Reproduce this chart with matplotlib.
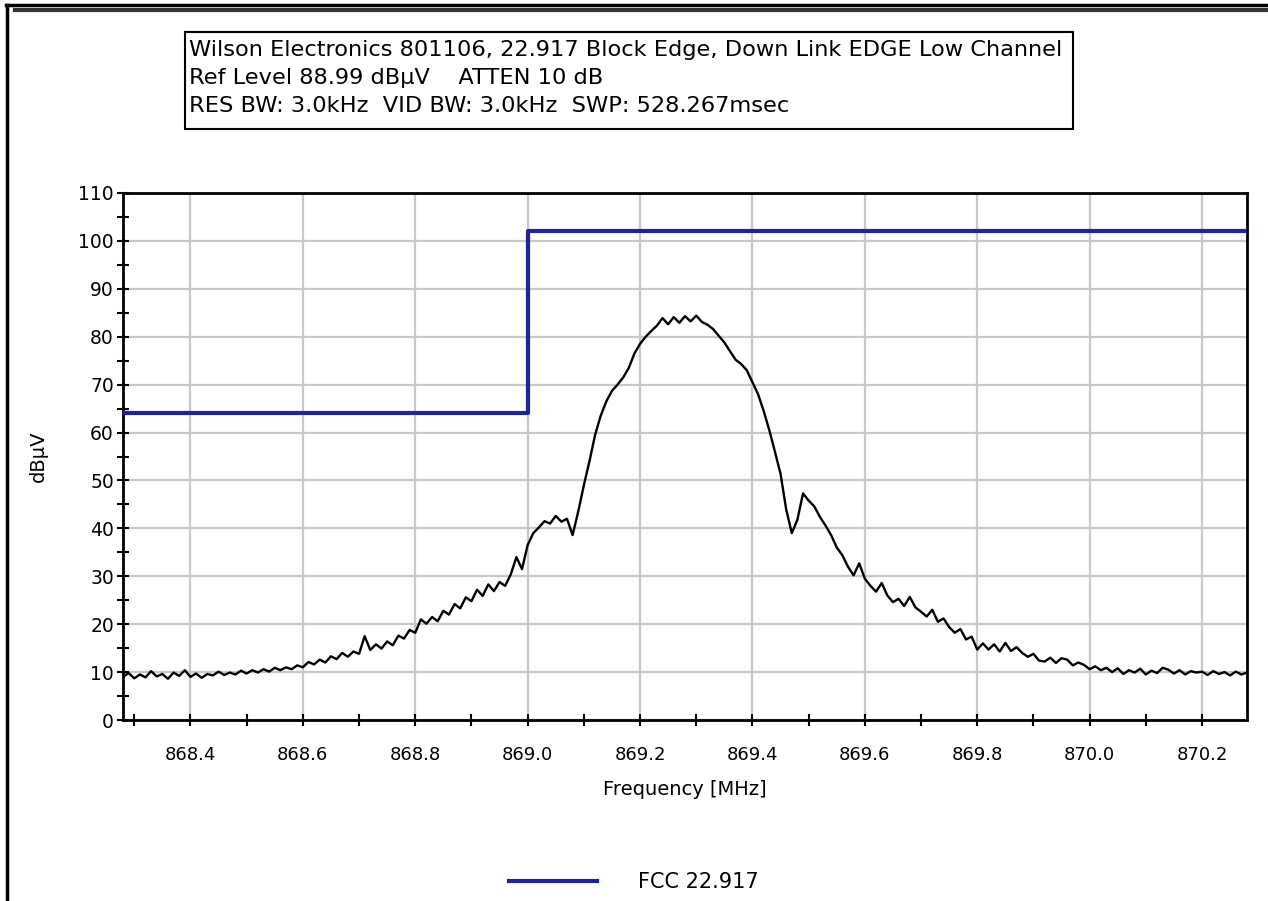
import numpy as np
import matplotlib
matplotlib.use("Agg")
import matplotlib.pyplot as plt
from matplotlib.lines import Line2D
from matplotlib.patches import Rectangle
from matplotlib.ticker import MultipleLocator, FormatStrFormatter

plt.rcParams["font.family"] = ["DejaVu Sans"]

# spectrum analyser sweep, 868.28 .. 870.28 MHz, one reading per 10 kHz (dBuV)
trace = [
    9.0, 9.8, 8.7, 9.5, 8.9, 10.2, 9.1, 9.6, 8.6, 9.9,
    9.2, 10.4, 9.0, 9.7, 8.8, 9.6, 9.3, 10.1, 9.4, 9.9,
    9.5, 10.3, 9.7, 10.4, 9.9, 10.6, 10.1, 10.9, 10.4, 11.0,
    10.6, 11.4, 11.0, 12.1, 11.6, 12.6, 12.0, 13.3, 12.7, 14.0,
    13.2, 14.3, 13.8, 17.5, 14.6, 15.8, 14.9, 16.4, 15.6, 17.6,
    17.0, 18.8, 18.2, 21.0, 20.1, 21.5, 20.6, 22.8, 22.0, 24.2,
    23.3, 25.6, 24.8, 27.2, 25.9, 28.3, 26.9, 28.8, 28.0, 30.4,
    34.0, 31.5, 36.5, 39.0, 40.2, 41.5, 41.0, 42.6, 41.4, 42.0,
    38.6, 43.5, 49.0, 54.0, 59.5, 63.5, 66.5, 68.7, 70.0, 71.5,
    73.5, 76.5, 78.5, 80.0, 81.2, 82.3, 83.9, 82.6, 84.1, 82.9,
    84.3, 83.2, 84.4, 83.1, 82.5, 81.6, 80.2, 78.8, 77.0, 75.2,
    74.3, 73.0, 70.5, 68.0, 64.5, 60.5, 56.0, 51.4, 44.0, 39.0,
    41.8, 47.3, 45.8, 44.6, 42.4, 40.6, 38.6, 36.0, 34.4, 32.0,
    30.2, 32.7, 29.5, 28.0, 26.8, 28.6, 26.0, 24.6, 25.3, 23.8,
    25.7, 23.5, 22.6, 21.6, 23.0, 20.5, 21.2, 19.4, 18.2, 19.0,
    16.8, 17.4, 14.7, 16.0, 14.7, 15.8, 14.3, 16.1, 14.4, 15.2,
    14.0, 13.2, 13.8, 12.4, 12.2, 13.0, 11.9, 12.9, 12.6, 11.4,
    12.0, 11.5, 10.6, 11.2, 10.4, 10.9, 10.0, 10.8, 9.6, 10.4,
    9.9, 10.7, 9.5, 10.3, 9.8, 10.9, 10.5, 9.7, 10.4, 9.5,
    10.2, 9.9, 10.1, 9.4, 10.2, 9.6, 10.0, 9.3, 10.1, 9.5,
    9.9,
]
f_start, f_stop = 868.28, 870.28
freq = np.linspace(f_start, f_stop, len(trace))

# FCC 22.917 limit mask
limit_freq = [868.28, 869.0, 870.28]
limit_level = [64, 102, 102]

header = [
    "Wilson Electronics 801106, 22.917 Block Edge, Down Link EDGE Low Channel",
    "Ref Level 88.99 dB\u00b5V    ATTEN 10 dB",
    "RES BW: 3.0kHz  VID BW: 3.0kHz  SWP: 528.267msec",
]

W, H = 1268, 901
fig = plt.figure(figsize=(W / 100, H / 100), dpi=100)
ax = fig.add_axes([123 / W, 1 - 720 / H, (1247 - 123) / W, (720 - 193) / H])

ax.plot(limit_freq, limit_level, drawstyle="steps-post", color="#22229a",
        lw=3, label="FCC 22.917", zorder=3)
ax.plot(freq, trace, color="black", lw=1.7, zorder=2)

ax.set_xlim(f_start, f_stop)
ax.set_ylim(0, 110)
ax.xaxis.set_major_locator(MultipleLocator(0.2))
ax.xaxis.set_minor_locator(MultipleLocator(0.1))
ax.xaxis.set_major_formatter(FormatStrFormatter("%.1f"))
ax.yaxis.set_major_locator(MultipleLocator(10))
ax.yaxis.set_minor_locator(MultipleLocator(5))
ax.grid(True, which="major", color="#c8c8c8", lw=1.6, zorder=0)
ax.set_axisbelow(True)
ax.tick_params(which="both", direction="inout", length=9, width=1.5, colors="black")
ax.tick_params(axis="x", which="major", pad=14, labelsize=13)
ax.tick_params(axis="y", which="major", pad=2, labelsize=13.5)
for s in ax.spines.values():
    s.set_linewidth(2)
ax.set_xlabel("Frequency [MHz]", fontsize=14, labelpad=12)
ax.set_ylabel("dB\u00b5V", fontsize=14, labelpad=22)

# header box
fig.add_artist(Rectangle((185 / W, 1 - 129 / H), (1073 - 185) / W, 97 / H,
                         transform=fig.transFigure, fill=False, ec="black", lw=1.5))
for i, line in enumerate(header):
    fig.text(189 / W, 1 - (50 + 28 * i) / H, line, fontsize=16.2,
             ha="left", va="center")

fig.legend(loc="center", bbox_to_anchor=(0.5, 1 - 882 / H), frameon=False,
           fontsize=15, handlelength=4.2, handletextpad=2.0)

# page frame
fig.add_artist(Line2D([6 / W, 1], [1 - 5 / H] * 2, color="black", lw=2.5,
                      transform=fig.transFigure))
fig.add_artist(Line2D([7 / W, 7 / W], [1 - 5 / H, 0], color="black", lw=2.5,
                      transform=fig.transFigure))
fig.add_artist(Line2D([15 / W, 1], [1 - 10 / H] * 2, color="#333333", lw=3,
                      transform=fig.transFigure))

fig.savefig("out.png", dpi=100)
